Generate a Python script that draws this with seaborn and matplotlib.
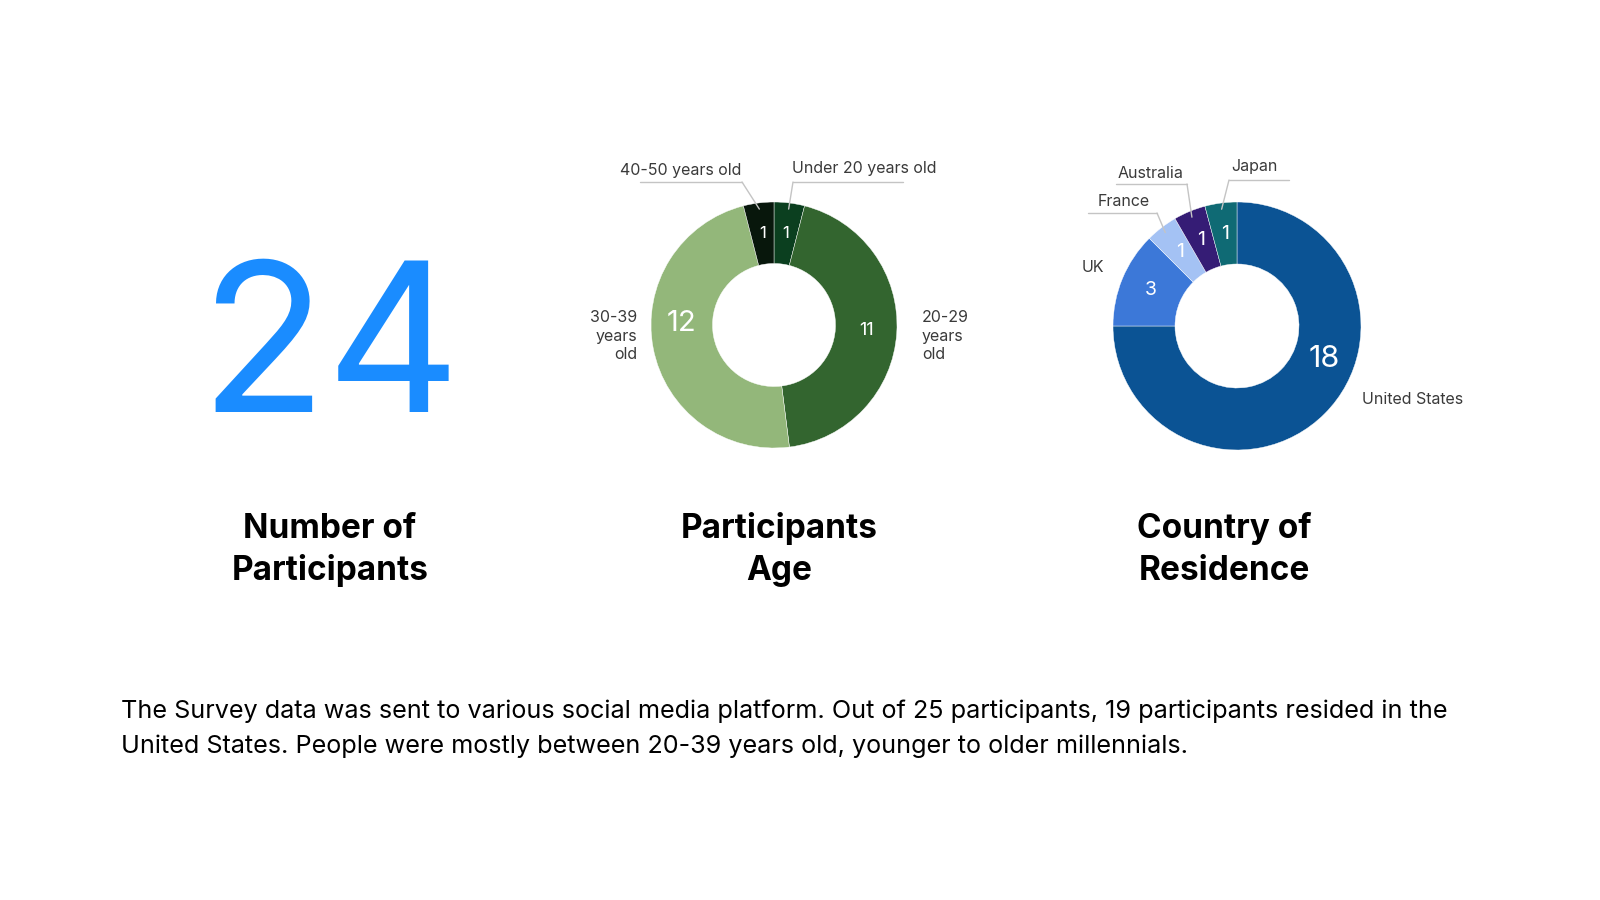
import matplotlib
matplotlib.use("Agg")
import matplotlib.pyplot as plt
import numpy as np
import seaborn as sns

# ---- data ----
total_participants = 24

age_groups = ["Under 20 years old", "20-29 years old", "30-39 years old", "40-50 years old"]
age_counts = [1, 11, 12, 1]

countries = ["United States", "UK", "France", "Australia", "Japan"]
country_counts = [18, 3, 1, 1, 1]

panel_titles = [["Number of", "Participants"],
                ["Participants", "Age"],
                ["Country of", "Residence"]]

summary_lines = [
    "The Survey data was sent to various social media platform. Out of 25 participants, 19 participants resided in the",
    "United States. People were mostly between 20-39 years old, younger to older millennials.",
]

# ---- style ----
age_colors = ["#0b3f1f", "#33652f", "#93b77a", "#08170c"]
country_colors = ["#0b5394", "#3c78d8", "#a4c2f4", "#351c75", "#0f6a74"]
age_value_sizes = [12, 13, 21, 12]
country_value_sizes = [22, 14, 14, 14, 14]
label_angle_override = {"30-39 years old": 271, "United States": 111}

sns.set_theme(style="white")
plt.rcParams["font.family"] = ["Inter", "DejaVu Sans"]

W, H = 1600, 900
fig = plt.figure(figsize=(16, 9), dpi=100)
ax = fig.add_axes([0, 0, 1, 1])


def P(x, y):
    # image pixel coords (y down) -> axes data coords (y up)
    return x, H - y


def donut(center, radius, values, labels, colors, sizes):
    cx, cy = P(*center)
    ax.pie(values, colors=colors, startangle=90, counterclock=False,
           radius=radius, center=(cx, cy),
           wedgeprops=dict(width=radius * 0.5, edgecolor="white", linewidth=0.3))
    total = sum(values)
    cum = np.cumsum([0] + list(values))
    mids = {}
    for i, (v, lab) in enumerate(zip(values, labels)):
        theta = (cum[i] + v / 2) / total * 360  # clockwise from top
        mids[lab] = theta
        t = np.radians(label_angle_override.get(lab, theta))
        r = radius * 0.75
        ax.text(cx + r * np.sin(t), cy + r * np.cos(t), str(v),
                color="white", fontsize=sizes[i], ha="center", va="center")
    return mids


def anchor(center, radius, theta, frac=0.95):
    cx, cy = P(*center)
    t = np.radians(theta)
    return cx + frac * radius * np.sin(t), cy + frac * radius * np.cos(t)


def callout(center, radius, theta, text, text_xy, line_x0, line_x1, line_y, end_x, ha="center"):
    lc = "#c4c4c4"
    ax.plot([line_x0, line_x1], [H - line_y, H - line_y], color=lc, lw=1)
    ax_, ay_ = anchor(center, radius, theta)
    ax.plot([end_x, ax_], [H - line_y, ay_], color=lc, lw=1)
    ax.text(*P(*text_xy), text, fontsize=11.5, color="#3a3a3a", ha=ha, va="center")


# ---- big number ----
ax.text(*P(330, 412), str(total_participants), fontsize=150, color="#1a8cff",
        ha="center", va="baseline")

# ---- age donut ----
age_c, age_r = (774, 325), 123
age_mid = donut(age_c, age_r, age_counts, age_groups, age_colors, age_value_sizes)
callout(age_c, age_r, age_mid["40-50 years old"], "40-50 years old", (681, 171),
        640, 742, 182, 742)
callout(age_c, age_r, age_mid["Under 20 years old"], "Under 20 years old", (864, 168),
        793, 903, 182, 793)
ax.text(*P(637, 336), "30-39\nyears\nold", fontsize=11.5, color="#3a3a3a",
        ha="right", va="center", multialignment="right", linespacing=1.3)
ax.text(*P(922, 336), "20-29\nyears\nold", fontsize=11.5, color="#3a3a3a",
        ha="left", va="center", multialignment="left", linespacing=1.3)

# ---- country donut ----
cty_c, cty_r = (1237, 326), 124
cty_mid = donut(cty_c, cty_r, country_counts, countries, country_colors, country_value_sizes)
callout(cty_c, cty_r, cty_mid["Japan"], "Japan", (1254, 167), 1229, 1289, 180, 1229)
callout(cty_c, cty_r, cty_mid["Australia"], "Australia", (1151, 173), 1116, 1187, 184, 1187)
callout(cty_c, cty_r, cty_mid["France"], "France", (1124, 202), 1088, 1157, 213, 1157)
ax.text(*P(1082, 268), "UK", fontsize=11.5, color="#3a3a3a", ha="left", va="center")
ax.text(*P(1362, 400), "United States", fontsize=11.5, color="#3a3a3a", ha="left", va="center")

# ---- panel titles ----
for x, lines in zip([330, 779, 1224], panel_titles):
    for y, line in zip([538, 580], lines):
        ax.text(*P(x, y), line, fontsize=24, fontweight="bold", color="black",
                ha="center", va="baseline")

# ---- summary paragraph ----
for y, line in zip([718, 753], summary_lines):
    ax.text(*P(121, y), line, fontsize=18.15, color="black", ha="left", va="baseline")

ax.set_xlim(0, W)
ax.set_ylim(0, H)
ax.set_aspect("auto")
ax.axis("off")

fig.savefig("out.png", dpi=100, facecolor="white")
